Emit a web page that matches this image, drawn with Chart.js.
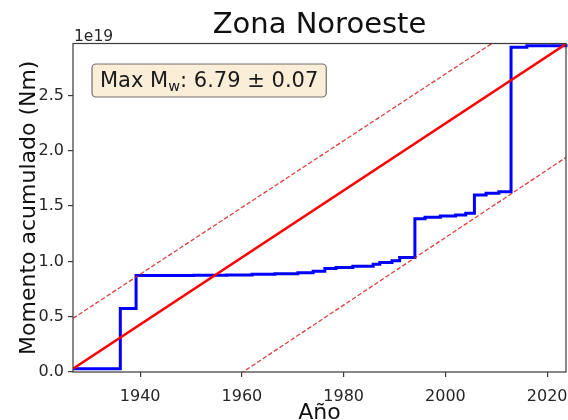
<!DOCTYPE html>
<html>
<head>
<meta charset="utf-8">
<script src="https://cdn.jsdelivr.net/npm/chart.js@4"></script>
<style>
  html, body { margin: 0; padding: 0; background: #fff; }
  #wrap { width: 568px; height: 420px; }
</style>
</head>
<body>
<div id="wrap"><canvas id="c" width="568" height="420"></canvas></div>
<script>
// ---- data (values in units of 1e19 N·m) ----
const titleText = 'Zona Noroeste';
const xTitle = 'Año';
const yTitle = 'Momento acumulado (Nm)';
const offsetLabel = '1e19';
const boxMain = 'Max M';
const boxSub = 'w';
const boxRest = ': 6.79 ± 0.07';

const xMin = 1926.8, xMax = 2023.7;
const yMin = 0, yMax = 2.97;
const xTickValues = [1940, 1960, 1980, 2000, 2020];
const yTickValues = [0, 0.5, 1.0, 1.5, 2.0, 2.5];

// cumulative moment (step curve)
const blueYears  = [1926.8, 1936.1, 1939.2, 1950.5, 1957.0, 1962.0, 1966.5, 1971.0, 1974.0, 1976.3, 1978.5, 1981.8, 1985.8, 1987.1, 1989.5, 1991.0, 1994.0, 1996.0, 1999.0, 2002.0, 2004.0, 2005.7, 2008.0, 2010.5, 2012.9, 2016.0, 2023.7];
const blueValues = [0.03,   0.575,  0.872,  0.874,  0.878,  0.884,  0.889,  0.897,  0.912,  0.935,  0.945,  0.957,  0.975,  0.990,  1.005,  1.035,  1.385,  1.400,  1.410,  1.420,  1.435,  1.600,  1.615,  1.630,  2.935,  2.950,  2.965];

// linear trend and its bounds
const trendYears  = [1926.8, 2023.7];
const trendValues = [0.03, 2.965];
const upperValues = [0.485, 3.41];
const lowerValues = [-1.02, 1.94];

const FONT = '"DejaVu Sans", "Liberation Sans", sans-serif';

function pts(xs, ys) { return xs.map((x, i) => ({ x: x, y: ys[i] })); }

const overlay = {
  id: 'overlay',
  afterDatasetsDraw(chart) {
    const { ctx, chartArea: a } = chart;
    ctx.save();
    // full frame
    ctx.strokeStyle = '#3a3a3a';
    ctx.lineWidth = 1.2;
    ctx.strokeRect(a.left, a.top, a.right - a.left, a.bottom - a.top);
    // offset label
    ctx.fillStyle = '#262626';
    ctx.font = '15.5px ' + FONT;
    ctx.textAlign = 'left';
    ctx.textBaseline = 'alphabetic';
    ctx.fillText(offsetLabel, a.left + 1, a.top - 3);
    // annotation box
    const mainFont = '21px ' + FONT;
    const subFont = '14.5px ' + FONT;
    ctx.font = mainFont;
    const w1 = ctx.measureText(boxMain).width;
    const w3 = ctx.measureText(boxRest).width;
    ctx.font = subFont;
    const w2 = ctx.measureText(boxSub).width;
    const padX = 8;
    const bx = a.left + 19, by = a.top + 20.5;
    const bw = w1 + w2 + w3 + 2 * padX, bh = 33;
    const r = 4;
    ctx.beginPath();
    ctx.moveTo(bx + r, by);
    ctx.lineTo(bx + bw - r, by);
    ctx.arcTo(bx + bw, by, bx + bw, by + r, r);
    ctx.lineTo(bx + bw, by + bh - r);
    ctx.arcTo(bx + bw, by + bh, bx + bw - r, by + bh, r);
    ctx.lineTo(bx + r, by + bh);
    ctx.arcTo(bx, by + bh, bx, by + bh - r, r);
    ctx.lineTo(bx, by + r);
    ctx.arcTo(bx, by, bx + r, by, r);
    ctx.closePath();
    ctx.fillStyle = 'rgba(245,222,179,0.5)';
    ctx.fill();
    ctx.strokeStyle = 'rgba(0,0,0,0.55)';
    ctx.lineWidth = 1.2;
    ctx.stroke();
    const base = by + 23;
    ctx.fillStyle = '#1a1a1a';
    ctx.font = mainFont;
    ctx.fillText(boxMain, bx + padX, base);
    ctx.font = subFont;
    ctx.fillText(boxSub, bx + padX + w1, base + 4);
    ctx.font = mainFont;
    ctx.fillText(boxRest, bx + padX + w1 + w2, base);
    ctx.restore();
  }
};

new Chart(document.getElementById('c'), {
  type: 'line',
  data: {
    datasets: [
      { data: pts(trendYears, trendValues), borderColor: '#ff0000', borderWidth: 2.6, pointRadius: 0, order: 0, clip: 0 },
      { data: pts(trendYears, upperValues), borderColor: 'rgba(215,30,30,0.85)', borderWidth: 1.3, borderDash: [4.5, 2.2], pointRadius: 0, order: 1, clip: 0 },
      { data: pts(trendYears, lowerValues), borderColor: 'rgba(215,30,30,0.85)', borderWidth: 1.3, borderDash: [4.5, 2.2], pointRadius: 0, order: 2, clip: 0 },
      { data: pts(blueYears, blueValues), borderColor: '#0000ff', borderWidth: 3, pointRadius: 0, stepped: 'before', order: 3, clip: 2 }
    ]
  },
  options: {
    responsive: false,
    animation: false,
    devicePixelRatio: 1,
    layout: { padding: { left: 0, right: 2, top: 0, bottom: 0 } },
    plugins: {
      legend: { display: false },
      tooltip: { enabled: false },
      title: {
        display: true,
        text: titleText,
        fullSize: false,
        color: '#111',
        font: { family: FONT, size: 29, weight: 'normal', lineHeight: 1.2 },
        padding: { top: 7.6, bottom: 1.1 }
      }
    },
    scales: {
      x: {
        type: 'linear',
        min: xMin, max: xMax,
        afterBuildTicks: s => { s.ticks = xTickValues.map(v => ({ value: v })); },
        afterFit: s => { s.height = 48; s.paddingLeft = 0; s.paddingRight = 0; },
        border: { display: false },
        grid: { display: true, drawOnChartArea: false, drawTicks: true, tickLength: 5, color: '#3a3a3a', lineWidth: 1.2 },
        ticks: { color: '#262626', padding: 10, maxRotation: 0, autoSkip: false, font: { family: FONT, size: 16 }, callback: v => String(v) },
        title: { display: true, text: xTitle, color: '#111', font: { family: FONT, size: 22, lineHeight: 0.6 }, padding: { top: 0, bottom: 0 } }
      },
      y: {
        type: 'linear',
        min: yMin, max: yMax,
        afterBuildTicks: s => { s.ticks = yTickValues.map(v => ({ value: v })); },
        afterFit: s => { s.width = 73; s.paddingTop = 0; s.paddingBottom = 0; },
        border: { display: false },
        grid: { display: true, drawOnChartArea: false, drawTicks: true, tickLength: 5, color: '#3a3a3a', lineWidth: 1.2 },
        ticks: { color: '#262626', padding: 4, autoSkip: false, font: { family: FONT, size: 16 }, callback: v => Number(v).toFixed(1) },
        title: { display: true, text: yTitle, color: '#111', font: { family: FONT, size: 22, lineHeight: 1.2 }, padding: { top: 16.5, bottom: 0 } }
      }
    }
  },
  plugins: [overlay]
});
</script>
</body>
</html>
